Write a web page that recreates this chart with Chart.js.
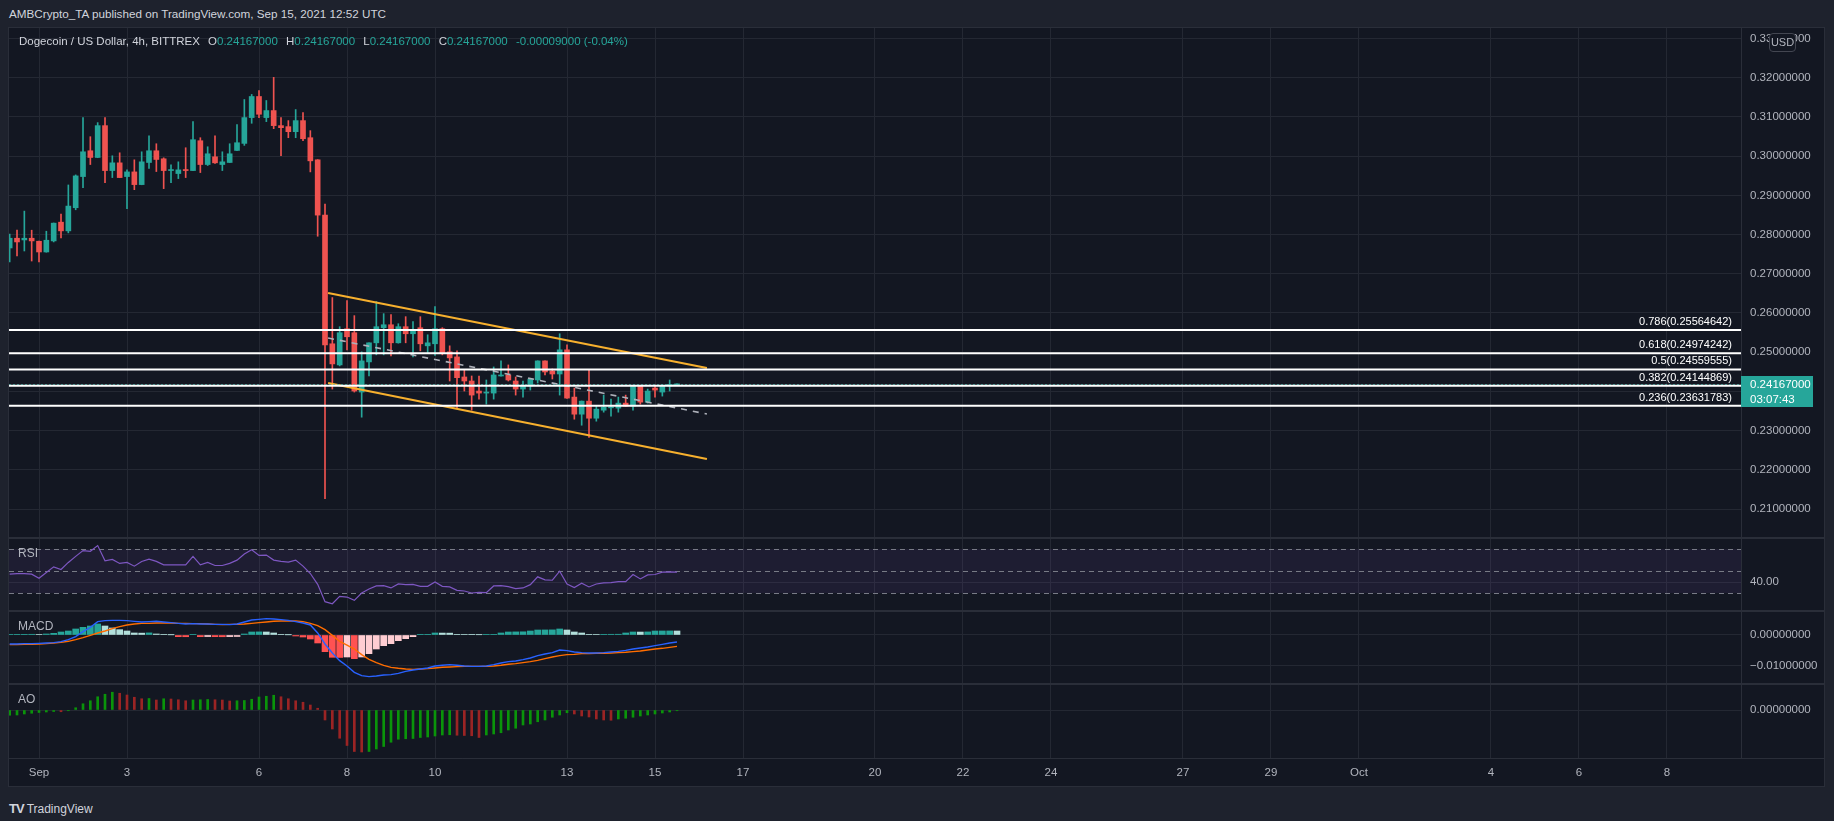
<!DOCTYPE html>
<html>
<head>
<meta charset="utf-8">
<script src="https://cdn.jsdelivr.net/npm/chart.js@4.4.1/dist/chart.umd.min.js"></script>
<style>
  html, body { margin: 0; padding: 0; width: 1834px; height: 821px; overflow: hidden; background: #1e222d;
    font-family: "Liberation Sans", Roboto, sans-serif; }
  #published { position: absolute; left: 9px; top: 7px; font-size: 11.7px; color: #d1d4dc; white-space: nowrap; }
  #frame { position: absolute; left: 8px; top: 27px; width: 1817px; height: 760px; box-sizing: border-box;
    border: 1px solid #2a2e39; background: #131722; }
  #chart { position: absolute; left: 9px; top: 28px; }
  #legend { position: absolute; left: 19px; top: 35px; font-size: 11.5px; color: #d1d4dc; white-space: nowrap; }
  #legend .v { color: #26a69a; }
  #legend .k { margin-left: 5px; }
  #usd { position: absolute; left: 1769px; top: 33px; width: 27px; height: 19px; box-sizing: border-box;
    border: 1px solid #434651; border-radius: 4px; background: #131722; color: #b2b5be; font-size: 11px;
    line-height: 17px; text-align: center; }
  #footer { position: absolute; left: 9px; top: 801px; font-size: 12px; color: #d1d4dc; white-space: nowrap; }
  #footer b { font-size: 13px; letter-spacing: -1px; margin-right: 3px; }
</style>
</head>
<body>
<div id="published">AMBCrypto_TA published on TradingView.com, Sep 15, 2021 12:52 UTC</div>
<div id="frame"></div>
<canvas id="chart" width="1815" height="758"></canvas>
<div id="legend">Dogecoin / US Dollar, 4h, BITTREX <span class="k">O</span><span class="v">0.24167000</span> <span class="k">H</span><span class="v">0.24167000</span> <span class="k">L</span><span class="v">0.24167000</span> <span class="k">C</span><span class="v">0.24167000</span> <span class="v k">-0.00009000 (-0.04%)</span></div>
<div id="usd">USD</div>
<div id="footer"><b>TV</b>TradingView</div>
<script>
const FONT = '"Liberation Sans", Roboto, sans-serif';
const TEXT = '#b2b5be';
const GRID = '#242833';
const SEP = '#2a2e39';
const UP = '#26a69a';
const DOWN = '#ef5350';

// 4h candles, first one Aug 31 08:00 UTC, x is days from Sep 1 00:00
const firstCandleDay = -4 / 6;
const candleStep = 1 / 6;

const opens = [
  0.27658, 0.27906, 0.27863, 0.27906, 0.27829, 0.27556, 0.27838, 0.28316, 0.28094, 0.28684,
  0.29479, 0.30137, 0.29966, 0.30778, 0.29632, 0.29829, 0.29479, 0.29598, 0.29274, 0.29838,
  0.30137, 0.29932, 0.29632, 0.29556, 0.29658, 0.29632, 0.30393, 0.29786, 0.29983, 0.29786,
  0.29838, 0.30145, 0.30325, 0.30983, 0.31521, 0.30983, 0.31162, 0.30778, 0.30752, 0.30624,
  0.30906, 0.30470, 0.29906, 0.28496, 0.25214, 0.24675, 0.25598, 0.25496, 0.23983, 0.24752,
  0.25239, 0.25624, 0.25700, 0.25239, 0.25650, 0.25470, 0.25624, 0.25162, 0.25214, 0.25598,
  0.25009, 0.24880, 0.24368, 0.24265, 0.24009, 0.23957, 0.23957, 0.24393, 0.24419, 0.24265,
  0.24060, 0.24137, 0.24291, 0.24778, 0.24521, 0.24444, 0.25060, 0.23855, 0.23419, 0.23752,
  0.23316, 0.23521, 0.23581, 0.23573, 0.23701, 0.23624, 0.24137, 0.23726, 0.24085, 0.23983,
  0.24137, 0.24167
];
const highs = [
  0.28009, 0.28111, 0.28598, 0.28111, 0.27835, 0.28085, 0.28295, 0.28521, 0.29265, 0.29521,
  0.30983, 0.30496, 0.30855, 0.30983, 0.30009, 0.30085, 0.29650, 0.29906, 0.30111, 0.30521,
  0.30316, 0.29957, 0.29778, 0.29855, 0.30214, 0.30880, 0.30470, 0.30239, 0.30521, 0.30111,
  0.30316, 0.30803, 0.31444, 0.31573, 0.31675, 0.31419, 0.32009, 0.30983, 0.30906, 0.31188,
  0.31111, 0.30650, 0.29910, 0.28778, 0.26393, 0.25650, 0.26316, 0.25932, 0.25009, 0.25240,
  0.26291, 0.25983, 0.25957, 0.25726, 0.25906, 0.25778, 0.25906, 0.25444, 0.26162, 0.25624,
  0.25162, 0.25034, 0.24547, 0.24393, 0.24393, 0.24291, 0.24624, 0.24778, 0.24675, 0.24368,
  0.24265, 0.24320, 0.24780, 0.24780, 0.24573, 0.25470, 0.25188, 0.24085, 0.23755, 0.24547,
  0.23624, 0.23906, 0.23803, 0.23855, 0.23906, 0.24140, 0.24140, 0.24060, 0.24162, 0.24162,
  0.24291, 0.24167
];
const lows = [
  0.27299, 0.27453, 0.27581, 0.27325, 0.27299, 0.27550, 0.27812, 0.27915, 0.28043, 0.28632,
  0.29197, 0.29786, 0.29960, 0.29325, 0.29453, 0.29450, 0.28658, 0.29145, 0.29270, 0.29684,
  0.29607, 0.29171, 0.29325, 0.29427, 0.29453, 0.29630, 0.29581, 0.29761, 0.29812, 0.29632,
  0.29835, 0.30140, 0.30274, 0.30838, 0.30983, 0.30880, 0.30701, 0.30009, 0.30470, 0.30470,
  0.30393, 0.29598, 0.27957, 0.21265, 0.24060, 0.24650, 0.25060, 0.23983, 0.23342, 0.24393,
  0.24932, 0.24932, 0.24906, 0.25230, 0.25239, 0.24880, 0.25034, 0.24983, 0.24915, 0.24932,
  0.24265, 0.23581, 0.24009, 0.23521, 0.23803, 0.23675, 0.23803, 0.24390, 0.24265, 0.23906,
  0.23855, 0.24034, 0.24214, 0.24419, 0.24316, 0.23906, 0.23820, 0.23291, 0.23137, 0.22829,
  0.23240, 0.23470, 0.23368, 0.23470, 0.23620, 0.23521, 0.23675, 0.23701, 0.23855, 0.23880,
  0.24009, 0.24167
];
const closes = [
  0.27906, 0.27812, 0.27906, 0.27838, 0.27556, 0.27855, 0.28291, 0.28094, 0.28726, 0.29496,
  0.30111, 0.29966, 0.30778, 0.29632, 0.29829, 0.29453, 0.29598, 0.29274, 0.29855, 0.30137,
  0.29915, 0.29632, 0.29650, 0.29650, 0.29632, 0.30419, 0.29786, 0.30060, 0.29829, 0.29855,
  0.30060, 0.30342, 0.30983, 0.31521, 0.31068, 0.31162, 0.30778, 0.30726, 0.30624, 0.30906,
  0.30444, 0.29880, 0.28496, 0.25188, 0.24701, 0.25496, 0.25393, 0.24009, 0.24778, 0.25239,
  0.25650, 0.25700, 0.25239, 0.25650, 0.25470, 0.25573, 0.25214, 0.25239, 0.25598, 0.24983,
  0.24855, 0.24350, 0.24265, 0.23906, 0.23957, 0.23983, 0.24419, 0.24419, 0.24291, 0.24060,
  0.24137, 0.24316, 0.24778, 0.24496, 0.24444, 0.25060, 0.23829, 0.23419, 0.23752, 0.23316,
  0.23547, 0.23598, 0.23607, 0.23701, 0.23624, 0.24137, 0.23726, 0.24009, 0.24034, 0.24137,
  0.24176, 0.24167
];

const rsi = [
  47.1, 47.7, 47.7, 47.1, 43.4, 48.6, 53.8, 51.4, 57.8, 63.3,
  68.5, 67.9, 73.1, 59.3, 60.5, 56.9, 57.8, 54.4, 58.7, 60.8,
  58.7, 55.6, 55.6, 55.6, 55.6, 63.3, 55.6, 57.8, 55.0, 55.0,
  56.9, 59.9, 65.4, 69.4, 64.2, 64.5, 59.9, 58.7, 58.1, 59.9,
  54.4, 47.7, 37.9, 22.1, 20.2, 26.9, 26.3, 23.3, 30.0, 33.7,
  36.4, 36.7, 34.6, 38.2, 37.6, 37.9, 36.1, 36.1, 40.1, 36.1,
  35.5, 32.4, 31.8, 30.0, 30.6, 30.3, 36.4, 36.7, 35.8, 34.0,
  34.6, 37.6, 44.7, 41.9, 41.6, 49.8, 38.2, 34.9, 38.9, 35.5,
  38.2, 39.2, 39.5, 40.4, 40.4, 46.8, 42.8, 46.5, 46.8, 48.9,
  49.2, 48.9
];

const macdLine = [
  -0.0029, -0.0029, -0.0028, -0.0028, -0.00269, -0.00258, -0.00247, -0.00215, -0.00151, -0.00054,
  0.00108, 0.00247, 0.0043, 0.00462, 0.00473, 0.00473, 0.00462, 0.00441, 0.00419, 0.0043,
  0.00441, 0.00419, 0.00398, 0.00376, 0.00355, 0.00366, 0.00355, 0.00355, 0.00344, 0.00344,
  0.00333, 0.00355, 0.00419, 0.00484, 0.00505, 0.00527, 0.00516, 0.00495, 0.00473, 0.0043,
  0.00387, 0.00323, 0.00065, -0.0029, -0.00581, -0.00828, -0.0100, -0.01204, -0.01312, -0.01344,
  -0.01323, -0.0129, -0.0128, -0.01237, -0.01172, -0.01129, -0.01097, -0.01065, -0.0100, -0.00978,
  -0.00957, -0.00978, -0.0100, -0.01011, -0.01011, -0.0100, -0.00957, -0.00903, -0.0086, -0.00839,
  -0.00796, -0.00742, -0.00667, -0.00613, -0.0057, -0.00484, -0.00505, -0.00548, -0.0057, -0.00581,
  -0.00581, -0.0057, -0.00548, -0.00527, -0.00495, -0.00452, -0.00419, -0.00387, -0.00344, -0.00301,
  -0.00258, -0.00226
];
const signalLine = [
  -0.00312, -0.00312, -0.00301, -0.00301, -0.0029, -0.0028, -0.00258, -0.00237, -0.00204, -0.00151,
  -0.00086, -0.00011, 0.00065, 0.00129, 0.00204, 0.00269, 0.00323, 0.00355, 0.00376, 0.00376,
  0.00387, 0.00387, 0.00387, 0.00376, 0.00376, 0.00366, 0.00366, 0.00355, 0.00344, 0.00333,
  0.00344, 0.00344, 0.00355, 0.00376, 0.00398, 0.00419, 0.00441, 0.00452, 0.00452, 0.00452,
  0.0043, 0.00376, 0.00301, 0.00172, -0.00011, -0.00204, -0.0033, -0.00452, -0.00634, -0.00785,
  -0.00892, -0.00978, -0.01043, -0.01075, -0.01097, -0.01108, -0.01097, -0.01086, -0.01065, -0.01043,
  -0.01032, -0.01022, -0.01011, -0.01011, -0.01011, -0.01011, -0.0100, -0.00978, -0.00946, -0.00925,
  -0.00892, -0.0086, -0.00817, -0.00763, -0.0071, -0.00667, -0.00634, -0.00624, -0.00602, -0.00602,
  -0.00591, -0.00591, -0.00581, -0.0057, -0.00559, -0.00538, -0.00516, -0.00484, -0.00452, -0.0043,
  -0.00398, -0.00366
];
const macdHist = [
  0.0002, 0.00021, 0.00022, 0.00023, 0.0002, 0.00032, 0.00054, 0.00097, 0.00129, 0.00194,
  0.00247, 0.0029, 0.00355, 0.0029, 0.00226, 0.00172, 0.00129, 0.00065, 0.0006, 0.00068,
  0.00032, 0.00011, 0.00005, -0.00054, -0.00056, 0.00011, -0.00054, -0.0005, -0.00054, -0.00056,
  -0.00052, -0.00048, 0.00032, 0.00097, 0.001, 0.00097, 0.00065, 0.00022, 0.00005, -0.00032,
  -0.00065, -0.00129, -0.00258, -0.00538, -0.0072, -0.00725, -0.0071, -0.00763, -0.0071, -0.00602,
  -0.00452, -0.00344, -0.0028, -0.00183, -0.00118, -0.00054, 0.0001, 0.00022, 0.00065, 0.00062,
  0.0006, 0.00022, 0.0002, 0.0001, 0.00008, 0.00011, 0.00022, 0.00065, 0.00097, 0.001,
  0.00103, 0.00129, 0.00161, 0.00163, 0.00165, 0.00194, 0.00161, 0.00097, 0.00065, 0.00022,
  0.0002, 0.00022, 0.00023, 0.00024, 0.00065, 0.00097, 0.00095, 0.00099, 0.00129, 0.0013,
  0.00131, 0.00129
];

const ao = [
  -0.0021, -0.0020, -0.0016, -0.0013, -0.0010, -0.0008, -0.0006, -0.0007, -0.0003, 0.0009,
  0.0025, 0.0037, 0.0053, 0.0063, 0.0071, 0.0067, 0.0060, 0.0051, 0.0045, 0.0046,
  0.0040, 0.0045, 0.0044, 0.0041, 0.0037, 0.0040, 0.0041, 0.0042, 0.0041, 0.0040,
  0.0036, 0.0037, 0.0038, 0.0043, 0.0052, 0.0055, 0.0059, 0.0053, 0.0045, 0.0037,
  0.0031, 0.0020, 0.0007, -0.0040, -0.0076, -0.0113, -0.0142, -0.0166, -0.0168, -0.0166,
  -0.0156, -0.0146, -0.0129, -0.0117, -0.0115, -0.0114, -0.0110, -0.0108, -0.0104, -0.0100,
  -0.0099, -0.0101, -0.0102, -0.0103, -0.0110, -0.0100, -0.0096, -0.0091, -0.0080, -0.0073,
  -0.0060, -0.0056, -0.0047, -0.0040, -0.0029, -0.0020, -0.0011, -0.0016, -0.0024, -0.0028,
  -0.0036, -0.0040, -0.0041, -0.0036, -0.0033, -0.0029, -0.0024, -0.0020, -0.0016, -0.0012,
  -0.0008, -0.0003
];

// time axis: days from Sep 1
const tickDays = [0, 2, 5, 7, 9, 12, 14, 16, 19, 21, 23, 26, 28, 30, 33, 35, 37];
const tickLabels = ['Sep', '3', '6', '8', '10', '13', '15', '17', '20', '22', '24', '27', '29', 'Oct', '4', '6', '8'];
const priceTicks = [0.21, 0.22, 0.23, 0.24, 0.25, 0.26, 0.27, 0.28, 0.29, 0.30, 0.31, 0.32, 0.33];

const fibRatios = ['0.786', '0.618', '0.5', '0.382', '0.236'];
const fibPrices = [0.25564642, 0.24974242, 0.24559555, 0.24144869, 0.23631783];

const channelTop = [{x: 6.57, y: 0.26509}, {x: 15.18, y: 0.24596}];
const channelBottom = [{x: 6.57, y: 0.24214}, {x: 15.18, y: 0.22276}];
const channelMid = [{x: 6.57, y: 0.25361}, {x: 15.18, y: 0.23423}];

const lastPrice = 0.24167;
const countdown = '03:07:43';

const xMin = -0.682, xMax = 38.682;

const xs = opens.map((_, i) => firstCandleDay + i * candleStep);
const candleColors = closes.map((c, i) => c >= opens[i] ? UP : DOWN);
const histColors = macdHist.map((h, i) => {
  const p = i ? macdHist[i - 1] : h;
  if (h >= 0) return h >= p ? '#26a69a' : '#b2dfdb';
  return h <= p ? '#ff5252' : '#ffcdd2';
});
const aoColors = ao.map((v, i) => (i === 0 || v >= ao[i - 1]) ? '#0a940a' : '#9b2424');

const series = (arr) => arr.map((v, i) => ({x: xs[i], y: v}));
const hline = (v) => [{x: xMin, y: v}, {x: xMax, y: v}];

// no auto padding from tick labels, so panes keep their exact heights
const noPad = s => { s.paddingTop = 0; s.paddingBottom = 0; s.paddingLeft = 0; s.paddingRight = 0; };

function paneAxis(weight, min, max, ticks, fmt) {
  return {
    type: 'linear', position: 'right', stack: 'panes', stackWeight: weight,
    min: min, max: max, bounds: 'data',
    grid: {color: GRID, drawTicks: false},
    border: {color: SEP},
    ticks: {color: TEXT, font: {family: FONT, size: 11.5}, padding: 9, autoSkip: false, callback: fmt},
    afterBuildTicks: s => { s.ticks = ticks.map(v => ({value: v})); },
    afterFit: s => { s.width = 83; noPad(s); }
  };
}
const fix8 = v => (v < 0 ? '\u2212' : '') + Math.abs(v).toFixed(8);

const lineDs = (data, color, width, axis, dash) => ({
  type: 'line', data: data, borderColor: color, borderWidth: width, borderDash: dash || [],
  pointRadius: 0, tension: 0, yAxisID: axis, order: 1
});

const datasets = [
  // candles: wicks then bodies
  {type: 'bar', data: xs.map((x, i) => ({x: x, y: [lows[i], highs[i]]})), backgroundColor: candleColors,
   barThickness: 1, grouped: false, yAxisID: 'price', order: 11, minBarLength: 1},
  {type: 'bar', data: xs.map((x, i) => ({x: x, y: [opens[i], closes[i]]})), backgroundColor: candleColors,
   barThickness: 5, grouped: false, yAxisID: 'price', order: 10, minBarLength: 1},
  ...fibPrices.map(p => lineDs(hline(p), '#ffffff', 2, 'price')),
  lineDs(hline(lastPrice), '#26a69a', 1, 'price', [2, 2]),
  lineDs(channelTop, '#f7b02e', 2.2, 'price'),
  lineDs(channelBottom, '#f7b02e', 2.2, 'price'),
  lineDs(channelMid, '#aeb1ba', 1.6, 'price', [6, 6]),
  lineDs(series(rsi), '#7e57c2', 1.2, 'rsi'),
  {type: 'bar', data: series(macdHist), backgroundColor: histColors, barThickness: 6, grouped: false,
   yAxisID: 'macd', order: 5},
  lineDs(series(macdLine), '#2962ff', 1.4, 'macd'),
  lineDs(series(signalLine), '#ff6d00', 1.4, 'macd'),
  {type: 'bar', data: series(ao), backgroundColor: aoColors, barThickness: 2, grouped: false,
   yAxisID: 'ao', order: 5}
];

const panePlugin = {
  id: 'panes',
  beforeDatasetsDraw(chart) {
    const {ctx, chartArea} = chart;
    const r = chart.scales.rsi;
    ctx.save();
    ctx.fillStyle = 'rgba(126,87,194,0.1)';
    const y70 = r.getPixelForValue(70), y30 = r.getPixelForValue(30);
    ctx.fillRect(chartArea.left, y70, chartArea.right - chartArea.left, y30 - y70);
    ctx.strokeStyle = '#787b86';
    ctx.lineWidth = 1;
    ctx.setLineDash([5, 4]);
    [70, 50, 30].forEach(v => {
      const y = Math.round(r.getPixelForValue(v)) + 0.5;
      ctx.beginPath(); ctx.moveTo(chartArea.left, y); ctx.lineTo(chartArea.right, y); ctx.stroke();
    });
    ctx.restore();
  },
  afterDatasetsDraw(chart) {
    const {ctx, chartArea} = chart;
    const ps = chart.scales.price;
    ctx.save();
    ctx.font = '11px ' + FONT;
    ctx.fillStyle = '#ffffff';
    ctx.textAlign = 'right';
    ctx.textBaseline = 'middle';
    fibRatios.forEach((r, k) => {
      const y = ps.getPixelForValue(fibPrices[k]);
      ctx.fillText(r + '(' + fibPrices[k].toFixed(8) + ')', chartArea.right - 9, y - 8);
    });
    ctx.fillStyle = TEXT;
    ctx.textAlign = 'left';
    ctx.font = '12px ' + FONT;
    [['rsi', 'RSI'], ['macd', 'MACD'], ['ao', 'AO']].forEach(([id, t]) => {
      ctx.fillText(t, chartArea.left + 9, chart.scales[id].top + 16);
    });
    ctx.restore();
  },
  afterDraw(chart) {
    const {ctx} = chart;
    const ps = chart.scales.price;
    ctx.save();
    ctx.strokeStyle = SEP;
    ctx.lineWidth = 2;
    ['rsi', 'macd', 'ao'].forEach(id => {
      const y = Math.round(chart.scales[id].top);
      ctx.beginPath(); ctx.moveTo(0, y); ctx.lineTo(chart.width, y); ctx.stroke();
    });
    ctx.lineWidth = 1;
    const yb = Math.round(chart.scales.x.top) + 0.5;
    ctx.beginPath(); ctx.moveTo(0, yb); ctx.lineTo(chart.width, yb); ctx.stroke();
    // last price tag
    const y = Math.round(ps.getPixelForValue(lastPrice));
    ctx.fillStyle = '#26a69a';
    ctx.fillRect(ps.left, y - 9, 72, 31);
    ctx.fillStyle = '#ffffff';
    ctx.font = '11.5px ' + FONT;
    ctx.textAlign = 'left';
    ctx.textBaseline = 'middle';
    ctx.fillText(lastPrice.toFixed(8), ps.left + 9, y);
    ctx.fillText(countdown, ps.left + 9, y + 15);
    ctx.restore();
  }
};

new Chart(document.getElementById('chart'), {
  type: 'bar',
  data: {datasets: datasets},
  options: {
    responsive: false,
    animation: false,
    events: [],
    layout: {padding: 0, autoPadding: false},
    plugins: {legend: {display: false}, tooltip: {enabled: false}},
    scales: {
      x: {
        type: 'linear', min: xMin, max: xMax, bounds: 'data', offset: false,
        grid: {color: GRID, drawTicks: false, offset: false},
        border: {color: SEP},
        ticks: {color: TEXT, font: {family: FONT, size: 11.5}, padding: 8, autoSkip: false, maxRotation: 0,
          callback: v => { const k = tickDays.indexOf(v); return k < 0 ? '' : tickLabels[k]; }},
        afterBuildTicks: s => { s.ticks = tickDays.map(v => ({value: v})); },
        afterFit: s => { s.height = 28; noPad(s); }
      },
      price: paneAxis(510, 0.20261, 0.33268, priceTicks, v => v.toFixed(8)),
      rsi: paneAxis(73, 13.64, 80, [40], v => v.toFixed(2)),
      macd: paneAxis(73, -0.01581, 0.00774, [0, -0.01], fix8),
      ao: paneAxis(74, -0.0192, 0.0104, [0], fix8)
    }
  },
  plugins: [panePlugin]
});
</script>
</body>
</html>
